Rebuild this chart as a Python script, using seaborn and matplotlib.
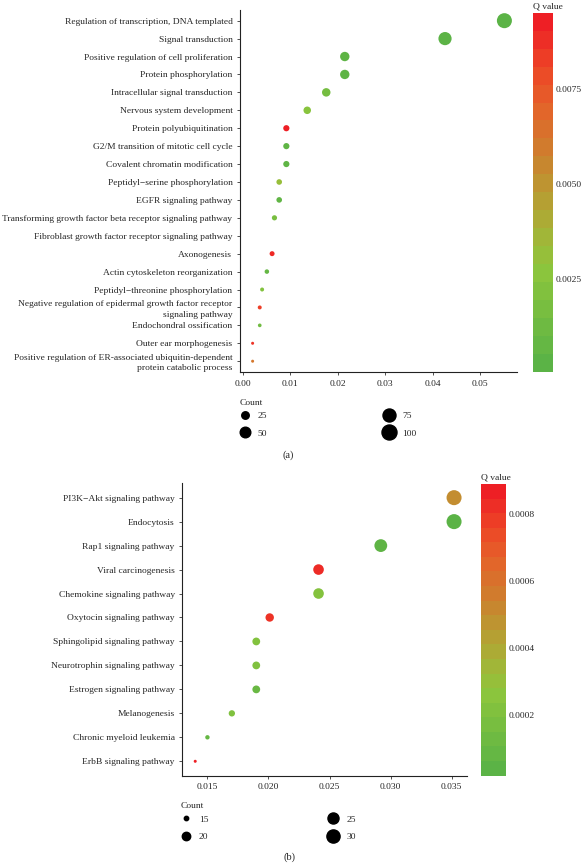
import numpy as np
import pandas as pd
import matplotlib
matplotlib.use('Agg')
import matplotlib.pyplot as plt
import seaborn as sns
from matplotlib.colors import LinearSegmentedColormap, Normalize
from matplotlib.lines import Line2D

# ---- panel (a): GO biological process
terms_a = ['Regulation of transcription, DNA templated', 'Signal transduction',
           'Positive regulation of cell proliferation', 'Protein phosphorylation',
           'Intracellular signal transduction', 'Nervous system development',
           'Protein polyubiquitination', 'G2/M transition of mitotic cell cycle',
           'Covalent chromatin modification', 'Peptidyl\u2212serine phosphorylation',
           'EGFR signaling pathway',
           'Transforming growth factor beta receptor signaling pathway',
           'Fibroblast growth factor receptor signaling pathway', 'Axonogenesis',
           'Actin cytoskeleton reorganization', 'Peptidyl\u2212threonine phosphorylation',
           'Negative regulation of epidermal growth factor receptor\nsignaling pathway',
           'Endochondral ossification', 'Outer ear morphogenesis',
           'Positive regulation of ER-associated ubiquitin-dependent\nprotein catabolic process']
ratio_a = [0.0551, 0.0426, 0.0215, 0.0215, 0.0176, 0.0136, 0.0092, 0.0092, 0.0092, 0.0077,
           0.0077, 0.0067, np.nan, 0.0062, 0.0051, 0.0041, 0.0036, 0.0036, 0.0021, 0.0021]
count_a = [100, 77, 39, 39, 32, 25, 17, 17, 17, 14, 14, 12, np.nan, 11, 9, 7, 7, 6, 4, 4]
qval_a = [0.00005, 0.0001, 0.0002, 0.0002, 0.0014, 0.0024, 0.0095, 0.0003, 0.0003, 0.0031,
          0.0004, 0.0016, np.nan, 0.0092, 0.0006, 0.0021, 0.0085, 0.0012, 0.0088, 0.0062]

# ---- panel (b): KEGG pathways
terms_b = ['PI3K\u2212Akt signaling pathway', 'Endocytosis', 'Rap1 signaling pathway',
           'Viral carcinogenesis', 'Chemokine signaling pathway', 'Oxytocin signaling pathway',
           'Sphingolipid signaling pathway', 'Neurotrophin signaling pathway',
           'Estrogen signaling pathway', 'Melanogenesis', 'Chronic myeloid leukemia',
           'ErbB signaling pathway']
ratio_b = [0.0352, 0.0352, 0.0292, 0.0241, 0.0241, 0.0201, 0.0190, 0.0190, 0.0190, 0.0170,
           0.0150, 0.0140]
count_b = [35, 35, 29, 24, 24, 20, 19, 19, 19, 17, 15, 14]
qval_b = [0.00050, 0.00002, 0.00004, 0.00085, 0.00022, 0.00083, 0.00021, 0.00020, 0.00009,
          0.00020, 0.00007, 0.00089]

legend_a = [25, 50, 75, 100]
legend_b = [15, 20, 25, 30]

sns.set_style('white')
plt.rcParams['font.family'] = ['Liberation Serif', 'DejaVu Serif']
fs = 6.8

cmap = LinearSegmentedColormap.from_list('qv', [
    (0.0, '#5bb346'), (0.28, '#8ec63c'), (0.40, '#a8b036'), (0.50, '#b99a32'),
    (0.62, '#cf7d2d'), (0.75, '#e4632a'), (0.85, '#ec4a27'), (1.0, '#ee1f25')])

fig = plt.figure(figsize=(5.82, 8.63), dpi=100)
H = 863.0
W = 582.0


def panel(terms, ratio, count, qval, ax_rect, cb_rect, sizes, leg_vals, count_xy, leg_xy,
          colsp, tag, tag_xy, cticks):
    df = pd.DataFrame({'term': terms, 'ratio': ratio, 'count': count, 'q': qval})
    df['pos'] = np.arange(len(df))
    ax = fig.add_axes(ax_rect)
    qmin, qmax = np.nanmin(qval), np.nanmax(qval)
    cmin, cmax = np.nanmin(count), np.nanmax(count)
    norm = Normalize(qmin, qmax)
    sns.scatterplot(data=df, x='ratio', y='pos', hue='q', size='count', palette=cmap,
                    hue_norm=norm, sizes=sizes, size_norm=(cmin, cmax), linewidth=0,
                    legend=False, ax=ax)
    ax.set_yticks(df['pos'])
    ax.set_yticklabels(df['term'], fontsize=fs, linespacing=1.35)
    ax.set_ylim(len(df) - 0.4, -0.6)
    ax.set_xlabel('')
    ax.set_ylabel('')
    ax.tick_params(axis='x', labelsize=fs)
    ax.tick_params(length=2.5, width=0.6, color='#333333', pad=3, left=True, bottom=True)
    for s in ['top', 'right']:
        ax.spines[s].set_visible(False)
    for s in ['left', 'bottom']:
        ax.spines[s].set_color('#222222')
        ax.spines[s].set_linewidth(0.8)

    # colour bar
    cax = fig.add_axes(cb_rect)
    sm = plt.cm.ScalarMappable(norm=norm, cmap=cmap.resampled(20))
    cb = fig.colorbar(sm, cax=cax)
    cb.outline.set_visible(False)
    cb.set_ticks(cticks)
    cb.set_ticklabels(['%.4f' % t for t in cticks])
    cax.tick_params(direction='in', color='white', length=3, width=0.7, left=True,
                    right=True, labelsize=fs, pad=2)
    cax.set_title('Q value', fontsize=fs, loc='left', pad=3)

    # count legend
    def msize(c):
        return np.sqrt(sizes[0] + (sizes[1] - sizes[0]) * (c - cmin) / (cmax - cmin))
    handles = [Line2D([], [], marker='o', ls='', color='black', markersize=msize(c))
               for c in leg_vals]
    fig.text(count_xy[0] / W, 1 - count_xy[1] / H, 'Count', fontsize=fs, ha='left',
             va='center')
    fig.legend(handles, [str(c) for c in leg_vals], ncol=2,
               loc='upper left', bbox_to_anchor=(leg_xy[0] / W, 1 - leg_xy[1] / H),
               frameon=False, fontsize=fs, handlelength=1.0,
               handletextpad=0.9, columnspacing=colsp, labelspacing=0.95,
               borderpad=0, borderaxespad=0)
    fig.text(tag_xy[0] / W, 1 - tag_xy[1] / H, tag, fontsize=7.5, ha='center', va='center')


panel(terms_a, ratio_a, count_a, qval_a,
      [0.4124, 0.5690, 0.4759, 0.4195], [0.9163, 0.5690, 0.0333, 0.4163],
      (4.7, 117), legend_a, (240, 403), (240, 411.5), 12.4, '(a)', (288, 455),
      [0.0025, 0.0050, 0.0075])
panel(terms_b, ratio_b, count_b, qval_b,
      [0.3132, 0.1012, 0.4892, 0.3388], [0.8265, 0.1012, 0.0430, 0.3380],
      (4.7, 117), legend_b, (181, 805.5), (181, 815), 12.7, '(b)', (289, 857),
      [0.0002, 0.0004, 0.0006, 0.0008])

fig.savefig('out.png', dpi=100)
